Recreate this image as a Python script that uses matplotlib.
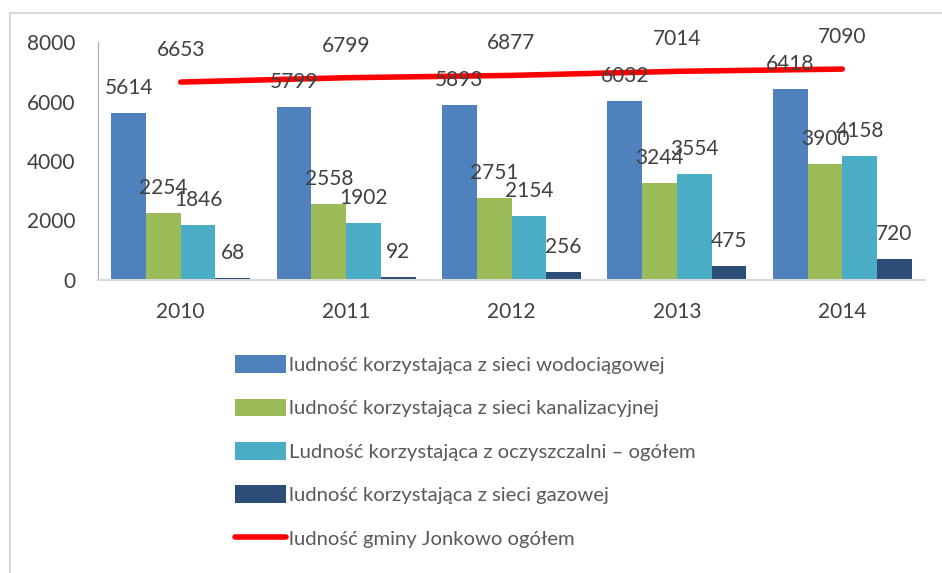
import matplotlib.pyplot as plt
import numpy as np

plt.rcParams['font.family'] = ['Lato', 'DejaVu Sans']

years = ['2010', '2011', '2012', '2013', '2014']
wodociag = [5614, 5799, 5893, 6032, 6418]
kanalizacja = [2254, 2558, 2751, 3244, 3900]
oczyszczalnia = [1846, 1902, 2154, 3554, 4158]
gaz = [68, 92, 256, 475, 720]
ogolem = [6653, 6799, 6877, 7014, 7090]

labels = ['ludność korzystająca z sieci wodociągowej',
          'ludność korzystająca z sieci kanalizacyjnej',
          'Ludność korzystająca z oczyszczalni – ogółem',
          'ludność korzystająca z sieci gazowej']
line_label = 'ludność gminy Jonkowo ogółem'

colors = ['#4F81BD', '#9BBB59', '#4BACC6', '#2C4D75']
txt = '#404040'

fig = plt.figure(figsize=(9.42, 5.73), dpi=100)
# light frame: top and left edge only (chart is cut at right/bottom)
fx0, fy0 = 9.5 / 942, 1 - 12.5 / 573
fig.add_artist(plt.Line2D([fx0, 1.0], [fy0, fy0], transform=fig.transFigure,
                          color='#D9D9D9', lw=1.5))
fig.add_artist(plt.Line2D([fx0, fx0], [0, fy0], transform=fig.transFigure,
                          color='#D9D9D9', lw=1.5))

ax = fig.add_axes([98 / 942, 1 - 280 / 573, 827 / 942, 238 / 573])

x = np.arange(len(years))
w = 0.21
series = [wodociag, kanalizacja, oczyszczalnia, gaz]
handles = []
for i, vals in enumerate(series):
    pos = x + (i - 1.5) * w
    b = ax.bar(pos, vals, w, color=colors[i], label=labels[i])
    handles.append(b)
    for px, v in zip(pos, vals):
        ax.annotate(str(v), (px, v), xytext=(0, 18), textcoords='offset points',
                    ha='center', va='center', fontsize=15, color=txt)

ln, = ax.plot(x, ogolem, color='#FF0000', lw=4, solid_capstyle='round', label=line_label)
handles.append(ln)
for px, v in zip(x, ogolem):
    ax.annotate(str(v), (px, v), xytext=(0, 23), textcoords='offset points',
                ha='center', va='center', fontsize=15, color=txt)

ax.set_xlim(-0.5, len(years) - 0.5)
ax.set_ylim(0, 8000)
ax.set_yticks([0, 2000, 4000, 6000, 8000])
ax.set_xticks(x)
ax.set_xticklabels(years)
ax.tick_params(axis='both', length=0, labelsize=15, labelcolor=txt)
ax.tick_params(axis='x', pad=16)
ax.tick_params(axis='y', pad=16)
for s in ['top', 'right']:
    ax.spines[s].set_visible(False)
ax.spines['left'].set_color('#A6A6A6')
ax.spines['bottom'].set_color('#D9D9D9')
ax.spines['bottom'].set_linewidth(1.5)

leg = fig.legend(handles=handles, labels=labels + [line_label],
                 loc='upper left', bbox_to_anchor=(227 / 942, 1 - 347 / 573),
                 frameon=False, fontsize=14.6, handlelength=2.5, handleheight=0.95,
                 handletextpad=0.15, labelspacing=1.22, borderaxespad=0)
for t in leg.get_texts():
    t.set_color('#595959')

fig.savefig('out.png', dpi=100)
